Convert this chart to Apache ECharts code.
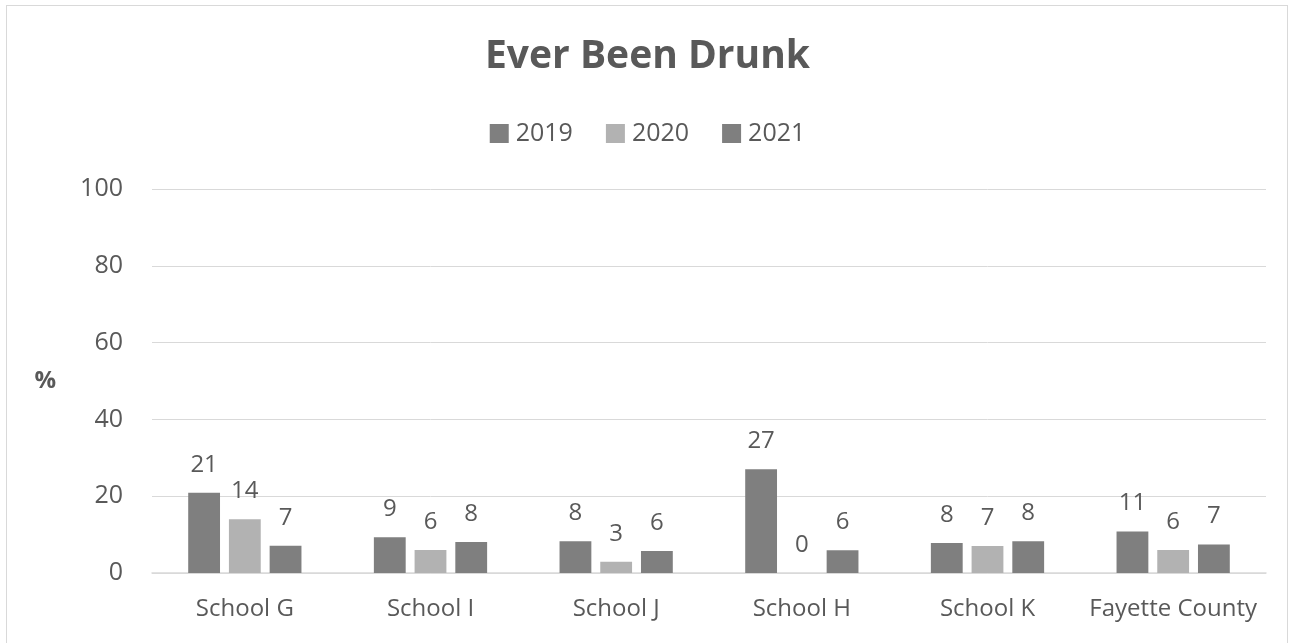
<!DOCTYPE html>
<html>
<head>
<meta charset="utf-8">
<script src="https://cdn.jsdelivr.net/npm/echarts@6/dist/echarts.min.js"></script>
<style>
  html, body { margin: 0; padding: 0; background: #fff; }
  #chart { width: 1295px; height: 643px; }
  .frame { position: absolute; left: 6px; top: 5px; width: 1282px; height: 650px; border: 1px solid #d9d9d9; box-sizing: border-box; pointer-events: none; }
</style>
</head>
<body>
<div id="chart"></div>
<div class="frame"></div>
<script>
const categories = ['School G', 'School I', 'School J', 'School H', 'School K', 'Fayette County']
const years = ['2019', '2020', '2021']
const values2019 = [20.9, 9.3, 8.3, 27, 7.8, 10.8]
const values2020 = [14, 6, 2.9, 0, 7, 6]
const values2021 = [7.1, 8.1, 5.7, 5.9, 8.3, 7.4]
const yTicks = [0, 20, 40, 60, 80, 100]

const font = '"Open Sans", sans-serif'
const dark = '#7f7f7f'
const light = '#b2b2b2'
const textColor = '#595959'

const chart = echarts.init(document.getElementById('chart'))

function bar(name, data, color) {
  return {
    name,
    type: 'bar',
    data,
    barGap: '28%',
    barCategoryGap: '39%',
    itemStyle: { color },
    label: {
      show: true,
      position: 'top',
      distance: 16,
      color: textColor,
      fontSize: 24,
      fontFamily: font,
      formatter: p => Math.round(p.value),
    },
  }
}

chart.setOption({
  animation: false,
  title: {
    text: 'Ever Been Drunk',
    left: 'center',
    top: 32,
    textStyle: { color: textColor, fontSize: 39, fontWeight: 'bold', fontFamily: font },
  },
  legend: {
    top: 116,
    left: 'center',
    itemWidth: 19,
    itemHeight: 19,
    itemGap: 33,
    icon: 'rect',
    textStyle: { color: textColor, fontSize: 25, fontFamily: font, padding: [0, 0, 0, 2] },
    data: years,
  },
  grid: { left: 152, right: 29, top: 189, bottom: 70, containLabel: false },
  xAxis: {
    type: 'category',
    data: categories,
    axisLine: { lineStyle: { color: '#d9d9d9', width: 1.5 } },
    axisTick: { show: false },
    axisLabel: { interval: 0, color: textColor, fontSize: 24, fontFamily: font, margin: 24 },
  },
  yAxis: {
    type: 'value',
    min: yTicks[0],
    max: yTicks[yTicks.length - 1],
    interval: 20,
    name: '%',
    nameLocation: 'middle',
    nameRotate: 0,
    nameGap: 96,
    nameTextStyle: { color: textColor, fontSize: 24, fontWeight: 'bold', fontFamily: font },
    axisLine: { show: false },
    axisTick: { show: false },
    axisLabel: { color: textColor, fontSize: 25, fontFamily: font, margin: 29 },
    splitLine: { lineStyle: { color: '#d9d9d9', width: 1 } },
  },
  series: [
    bar(years[0], values2019, dark),
    bar(years[1], values2020, light),
    bar(years[2], values2021, dark),
  ],
})
</script>
</body>
</html>
